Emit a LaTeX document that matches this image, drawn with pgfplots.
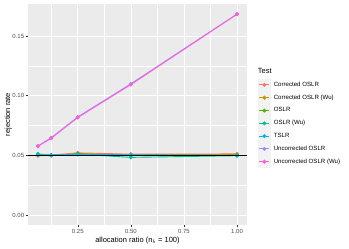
\documentclass[border=0pt]{standalone}
\usepackage{fontspec}
\setmainfont{Liberation Sans}
\usepackage{pgfplots}
\pgfplotsset{compat=1.18}
\definecolor{c1}{HTML}{F8766D}
\definecolor{c2}{HTML}{C49A00}
\definecolor{c3}{HTML}{53B400}
\definecolor{c4}{HTML}{00C094}
\definecolor{c5}{HTML}{00B6EB}
\definecolor{c6}{HTML}{A58AFF}
\definecolor{c7}{HTML}{FB61D7}
\definecolor{panel}{HTML}{EBEBEB}
\definecolor{keybg}{HTML}{F2F2F2}
\definecolor{tickc}{HTML}{4D4D4D}
\definecolor{tickm}{HTML}{333333}
\begin{document}
\begin{tikzpicture}
\begin{axis}[
  scale only axis, width=219pt, height=221pt,
  clip mode=individual,
  xmin=0.0156, xmax=1.0469, ymin=-0.0084, ymax=0.1769,
  axis background/.style={fill=panel},
  axis line style={draw=none},
  xtick={0.25,0.5,0.75,1}, ytick={0,0.05,0.1,0.15},
  minor xtick={0.125,0.375,0.625,0.875}, minor ytick={0.025,0.075,0.125},
  grid=both,
  major grid style={white, line width=0.7pt},
  minor grid style={white, line width=0.35pt},
  tick style={tickm, line width=0.5pt},
  major tick length=2.2pt, minor tick length=0pt,
  tick align=outside, tick pos=left,
  /pgf/number format/.cd, fixed, fixed zerofill, precision=2, assume math mode=true,
  /pgfplots/.cd,
  ticklabel style={font=\fontsize{6}{7}\selectfont, text=tickc},
  xticklabel style={inner sep=1.5pt},
  yticklabel style={inner sep=1.5pt},
  xlabel={allocation ratio (n$_{b}$ = 100)}, ylabel={rejection rate},
  label style={font=\fontsize{7.5}{9}\selectfont},
  xlabel style={at={(axis description cs:0.5,-0.072)}, anchor=center},
  ylabel style={at={(axis description cs:-0.091,0.5)}, anchor=center},
  legend style={at={(axis description cs:1.049,0.6636)}, anchor=north west,
    draw=none, fill=none, inner sep=0pt, row sep=0pt, column sep=3pt,
    font=\fontsize{6.1}{7}\selectfont, nodes={inner sep=0pt}},
  legend cell align=left,
  legend image code/.code={
    \fill[keybg] (0pt,-5.95pt) rectangle (12pt,5.95pt);
    \draw[#1,mark=none] (1pt,0pt) -- (11pt,0pt);
    \draw[#1,only marks] plot coordinates {(6pt,0pt)};
  },
  every axis plot/.append style={line width=0.9pt, mark=*, mark size=1.5pt},
]
\addplot[c1, mark options={fill=c1}] coordinates {(0.0625,0.0505)(0.125,0.0502)(0.25,0.0521)(0.5,0.0510)(1,0.0512)};
\addlegendentry{Corrected OSLR}
\addplot[c2, mark options={fill=c2}] coordinates {(0.0625,0.0497)(0.125,0.0498)(0.25,0.0515)(0.5,0.0505)(1,0.0508)};
\addlegendentry{Corrected OSLR (Wu)}
\addplot[c3, mark options={fill=c3}] coordinates {(0.0625,0.0505)(0.125,0.0500)(0.25,0.0512)(0.5,0.0500)(1,0.0500)};
\addlegendentry{OSLR}
\addplot[c4, mark options={fill=c4}] coordinates {(0.0625,0.0512)(0.125,0.0500)(0.25,0.0510)(0.5,0.0483)(1,0.0497)};
\addlegendentry{OSLR (Wu)}
\addplot[c5, mark options={fill=c5}] coordinates {(0.0625,0.0505)(0.125,0.0503)(0.25,0.0508)(0.5,0.0505)(1,0.0500)};
\addlegendentry{TSLR}
\addplot[c6, mark options={fill=c6}] coordinates {(0.0625,0.0578)(0.125,0.0648)(0.25,0.0822)(0.5,0.1100)(1,0.1685)};
\addlegendentry{Uncorrected OSLR}
\addplot[c7, mark options={fill=c7}] coordinates {(0.0625,0.0576)(0.125,0.0643)(0.25,0.0817)(0.5,0.1093)(1,0.1683)};
\addlegendentry{Uncorrected OSLR (Wu)}
\addplot[black, line width=0.9pt, mark=none, forget plot] coordinates {(0.0156,0.05)(1.0469,0.05)};
\node[anchor=west, inner sep=0pt, font=\fontsize{7.5}{9}\selectfont] at (axis description cs:1.049,0.697) {Test};
\end{axis}
\pgfresetboundingbox
\useasboundingbox (-28pt,-24pt) rectangle (321pt,225pt);
\end{tikzpicture}
\end{document}
